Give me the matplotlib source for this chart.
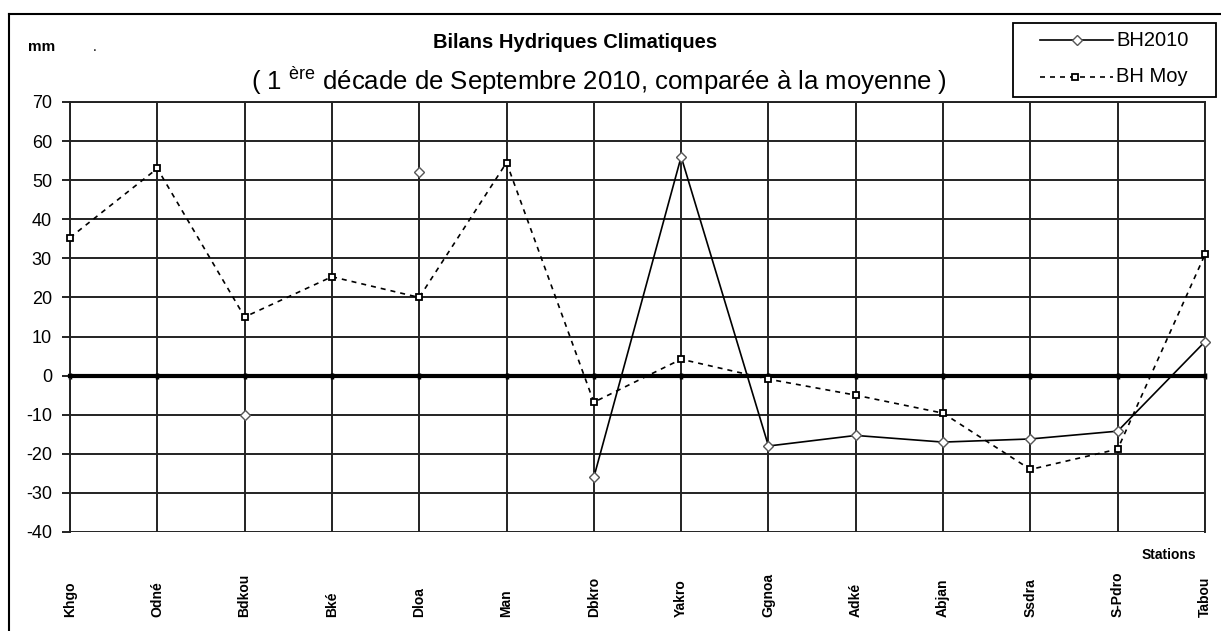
import numpy as np
import matplotlib
matplotlib.use("Agg")
import matplotlib.pyplot as plt
from matplotlib.lines import Line2D
from matplotlib.patches import Rectangle
import matplotlib.transforms as mtransforms

plt.rcParams['font.family'] = ['Liberation Sans', 'DejaVu Sans']
plt.rcParams['mathtext.fontset'] = 'custom'
plt.rcParams['mathtext.rm'] = 'Liberation Sans'
plt.rcParams['axes.unicode_minus'] = False

# donnees (mm)
stations = ['Khgo', 'Odné', 'Bdkou', 'Bké', 'Dloa', 'Man', 'Dbkro', 'Yakro',
            'Ggnoa', 'Adké', 'Abjan', 'Ssdra', 'S-Pdro', 'Tabou']
bh2010 = [np.nan, np.nan, -10, np.nan, 52, np.nan, -26, 56,
          -18, -15.3, -17, -16.2, -14.2, 8.7]
bh_moy = [35.3, 53, 15, 25.3, 20, 54.5, -6.8, 4.2,
          -0.9, -5, -9.6, -24, -18.8, 31]
y_ticks = list(range(-40, 71, 10))

W, H = 1221, 631
fig = plt.figure(figsize=(W / 100, H / 100), dpi=100)
ax = fig.add_axes([70 / W, 1 - 532 / H, (1205 - 70) / W, (532 - 102) / H])


def fx(px):
    return px / W


def fy(py):
    return 1 - py / H


x = np.arange(len(stations))

# cadre du graphique
fig.add_artist(Line2D([fx(9), fx(9)], [0, fy(14)], color='black', lw=1.5))
fig.add_artist(Line2D([fx(9), 1], [fy(14), fy(14)], color='black', lw=1.5))

moy_style = dict(color='black', lw=1.2, ls=(0, (3, 3)), marker='s', ms=5,
                 mfc='white', mec='black', mew=1.3)
bh_style = dict(color='black', lw=1.2, ls='-', marker='D', ms=5,
                mfc='white', mec='#555555', mew=1)

ax.plot(x, bh_moy, clip_on=False, zorder=4, label='BH Moy', **moy_style)
ax.plot(x, bh2010, clip_on=False, zorder=5, label='BH2010', **bh_style)

ax.set_xlim(0, len(stations) - 1)
ax.set_ylim(-40, 70)
ax.set_yticks(y_ticks)
ax.set_xticks(x)
ax.set_xticklabels([])
ax.grid(True, color='#222222', lw=1.4)
ax.set_axisbelow(True)

for s in ['top', 'right', 'left']:
    ax.spines[s].set_color('#222222')
    ax.spines[s].set_linewidth(1.4)
ax.spines['bottom'].set_position(('data', 0))
ax.spines['bottom'].set_linewidth(3)
ax.spines['bottom'].set_zorder(3)
ax.tick_params(axis='x', direction='inout', length=5, width=2.5, color='black')
ax.tick_params(axis='y', direction='out', length=6, width=1.4, pad=7,
               labelsize=13, color='#222222')

# etiquettes des stations
trans = mtransforms.blended_transform_factory(ax.transData, ax.transAxes)
for i, name in enumerate(stations):
    ax.text(i, -85 / 430, name, rotation=90, ha='center', va='bottom',
            fontsize=10, fontweight='bold', transform=trans)

fig.text(fx(1169), fy(555), 'Stations', ha='center', va='center',
         fontsize=10, fontweight='bold')
fig.text(fx(28), fy(47), 'mm', ha='left', va='center', fontsize=11,
         fontweight='bold')
fig.text(fx(95), fy(47), '.', ha='center', va='center', fontsize=10)

fig.text(fx(575), fy(42), 'Bilans Hydriques Climatiques', ha='center',
         va='center', fontsize=14.5, fontweight='bold')
fig.text(fx(599), fy(81),
         r'( 1 $^{\mathrm{ère}}$ décade de Septembre 2010, comparée à la moyenne )',
         ha='center', va='center', fontsize=18.5)

# legende
fig.add_artist(Rectangle((fx(1013), fy(97)), fx(1216) - fx(1013), fy(23) - fy(97),
                         transform=fig.transFigure, fill=False, ec='black', lw=1.3))
for row, (lab, st, mx) in enumerate([('BH2010', bh_style, 1077),
                                      ('BH Moy', moy_style, 1075)]):
    yy = fy(40 + row * 37)
    st2 = dict(st)
    st2.pop('marker')
    fig.add_artist(Line2D([fx(1040), fx(1113)], [yy, yy], **st2))
    fig.add_artist(Line2D([fx(mx)], [yy], ls='none', marker=st['marker'],
                          ms=st['ms'], mfc=st['mfc'], mec=st['mec'], mew=st['mew']))
    fig.text(fx(1116), yy, lab, ha='left', va='center', fontsize=14.5)

fig.savefig('out.png', dpi=100)
